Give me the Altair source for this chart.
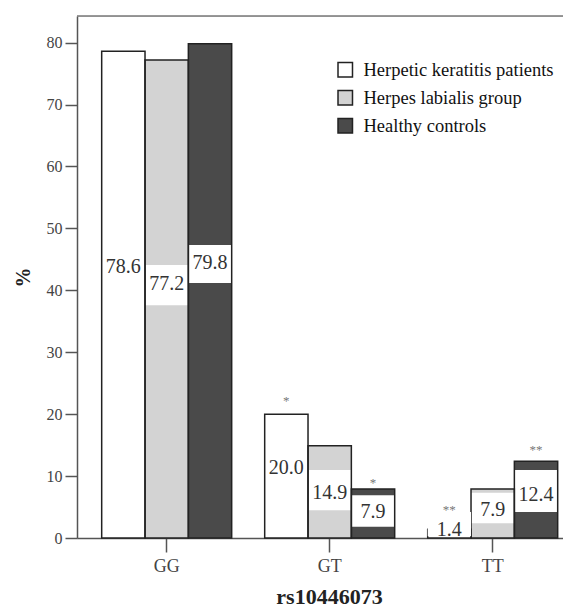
import altair as alt
import pandas as pd

categories = ["GG", "GT", "TT"]
groups = ["Herpetic keratitis patients", "Herpes labialis group", "Healthy controls"]

keratitis = [78.6, 20.0, 1.4]
labialis = [77.2, 14.9, 7.9]
controls = [79.8, 7.9, 12.4]

label_pos_keratitis = [43.8, 11.3, 1.3]
label_pos_labialis = [41.1, 7.3, 4.5]
label_pos_controls = [44.4, 4.2, 6.9]

box_lo_keratitis = [40.7, 8.2, 0.3]
box_hi_keratitis = [46.9, 14.4, 4.2]
box_lo_labialis = [37.6, 4.5, 2.4]
box_hi_labialis = [44.1, 11.0, 7.3]
box_lo_controls = [41.2, 1.8, 4.2]
box_hi_controls = [47.3, 6.9, 11.0]

star_cats = ["GT", "GT", "TT", "TT"]
star_groups = [groups[0], groups[2], groups[0], groups[2]]
star_text = ["*", "*", "**", "**"]
star_pos = [21.5, 8.2, 3.8, 13.6]

y_ticks = [0, 10, 20, 30, 40, 50, 60, 70, 80]
y_max = 84.3

colors = ["#ffffff", "#d3d3d3", "#4a4a4a"]
FONT = "Liberation Serif"

rows = []
for g, vals, lp, lo, hi in [
    (groups[0], keratitis, label_pos_keratitis, box_lo_keratitis, box_hi_keratitis),
    (groups[1], labialis, label_pos_labialis, box_lo_labialis, box_hi_labialis),
    (groups[2], controls, label_pos_controls, box_lo_controls, box_hi_controls),
]:
    for c, v, p, l, h in zip(categories, vals, lp, lo, hi):
        rows.append({"cat": c, "group": g, "value": v, "label": f"{v:.1f}",
                     "lpos": p, "lo": l, "hi": h})
df = pd.DataFrame(rows)
stars = pd.DataFrame({"cat": star_cats, "group": star_groups,
                      "txt": star_text, "pos": star_pos})

yscale = alt.Scale(domain=[0, y_max], nice=False, zero=True)
yaxis = alt.Axis(values=y_ticks, title="%", grid=False, domainColor="#555",
                 domainWidth=1.5, tickColor="#555", tickWidth=1.5, tickSize=12,
                 labelPadding=3, labelFont=FONT, labelFontSize=16,
                 labelColor="#444", titleFont=FONT, titleFontSize=20,
                 titleFontWeight="bold", titleColor="#222", titleX=-54,
                 titleY=261, titleBaseline="middle")
xscale = alt.Scale(paddingInner=0.2025, paddingOuter=0.092, align=0.823)
xaxis = alt.Axis(title="rs10446073", labelAngle=0, domainColor="#555",
                 domainWidth=1.5, tickColor="#555", tickWidth=1.5, tickSize=14,
                 labelPadding=5, labelFont=FONT, labelFontSize=18,
                 labelColor="#444", titleFont=FONT, titleFontSize=22,
                 titleFontWeight="bold", titleColor="#222", titleX=252,
                 titleY=65, titleBaseline="alphabetic")
xoff = alt.XOffset("group:N", sort=groups,
                   scale=alt.Scale(domain=groups, paddingInner=0, paddingOuter=0))
X = alt.X("cat:N", sort=categories, scale=xscale, axis=xaxis)

base = alt.Chart(df)

fills = base.mark_bar(strokeWidth=0).encode(
    x=X, xOffset=xoff,
    y=alt.Y("value:Q", scale=yscale, axis=yaxis),
    fill=alt.Fill("group:N", sort=groups,
                  scale=alt.Scale(domain=groups, range=colors),
                  legend=alt.Legend(title=None, orient="none", legendX=259,
                                    legendY=44.5, padding=0, symbolType="square",
                                    symbolSize=210, symbolStrokeColor="#222",
                                    symbolStrokeWidth=1.5, labelFont=FONT,
                                    labelFontSize=18.5, labelColor="#111",
                                    labelOffset=9, rowPadding=7,
                                    labelLimit=300)),
)

boxes = base.mark_bar(color="white", strokeWidth=0).encode(
    x=X, xOffset=xoff,
    y=alt.Y("lo:Q", scale=yscale, axis=yaxis),
    y2="hi:Q",
)

outlines = base.mark_bar(fillOpacity=0, stroke="#222", strokeWidth=1.5).encode(
    x=X, xOffset=xoff,
    y=alt.Y("value:Q", scale=yscale, axis=yaxis),
)

# label boxes that rise above their own bar are drawn over its outline
boxes_over = boxes.transform_filter("datum.hi > datum.value")

labels = base.mark_text(font=FONT, fontSize=20, color="#333",
                        baseline="middle", align="center").encode(
    x=X, xOffset=xoff,
    y=alt.Y("lpos:Q", scale=yscale, axis=yaxis),
    text="label:N",
)

star_layer = alt.Chart(stars).mark_text(font=FONT, fontSize=13, color="#777",
                                        baseline="alphabetic",
                                        align="center").encode(
    x=X, xOffset=xoff,
    y=alt.Y("pos:Q", scale=yscale, axis=yaxis),
    text="txt:N",
)

frame_top = alt.Chart(pd.DataFrame({"top": [y_max]})).mark_rule(
    color="#777", strokeWidth=1.5).encode(
    y=alt.Y("top:Q", scale=yscale, axis=yaxis),
)

chart = alt.layer(fills, boxes, outlines, boxes_over, labels, star_layer,
                  frame_top).properties(
    width=486, height=522,
    autosize=alt.AutoSizeParams(type="none"),
    padding={"left": 69, "top": 8, "right": 0, "bottom": 70},
).configure_view(stroke=None).configure(
    background="white", font=FONT
).configure_text(font=FONT).configure_legend(labelFont=FONT)

chart.save("out.html", embed_options={"renderer": "svg", "actions": False})
